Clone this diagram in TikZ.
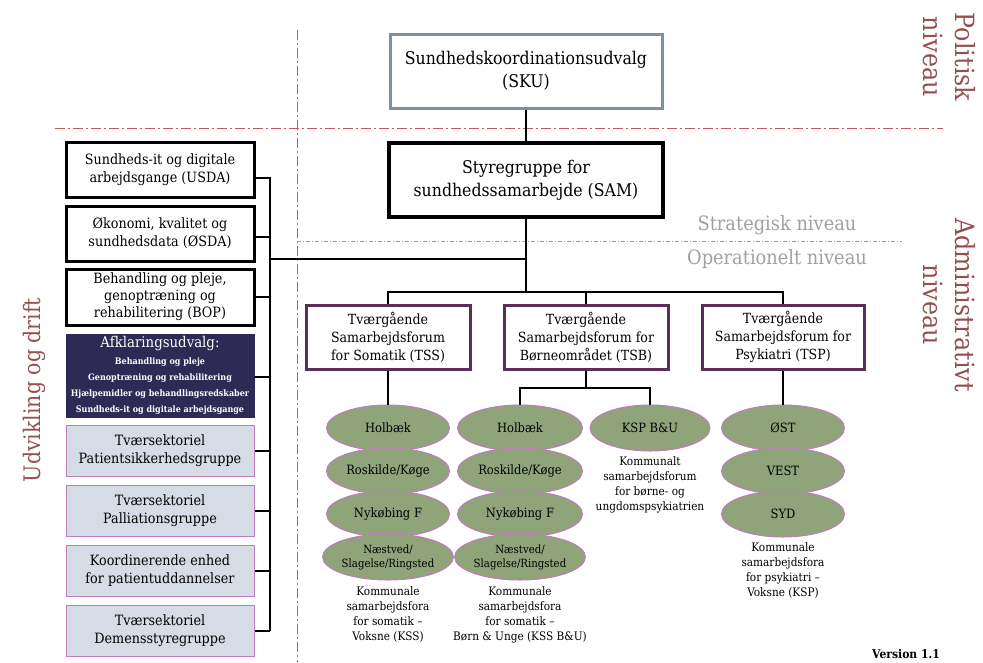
\documentclass[tikz,border=0pt]{standalone}
\usepackage{fontspec}
\setmainfont[FakeStretch=0.9]{DejaVu Serif}
\usetikzlibrary{shapes.geometric}
\definecolor{dashred}{RGB}{196,90,90}
\definecolor{lblred}{RGB}{148,80,78}
\definecolor{skuborder}{RGB}{127,143,168}
\definecolor{purp}{RGB}{92,45,92}
\definecolor{navy}{RGB}{45,43,85}
\definecolor{lightfill}{RGB}{214,220,229}
\definecolor{pinkborder}{RGB}{194,123,192}
\definecolor{olive}{RGB}{143,164,121}
\definecolor{grayline}{RGB}{160,160,160}
\definecolor{graytext}{RGB}{160,160,160}
\tikzset{
  conn/.style={line width=2pt, black},
  topbox/.style={draw, line width=3pt, fill=white, align=center, inner sep=0pt, font=\fontsize{17.5}{23}\selectfont},
  leftbox/.style={draw=black, line width=3pt, fill=white, align=center, inner sep=0pt, minimum width=188pt, font=\fontsize{14.2}{18}\selectfont},
  lightbox/.style={draw=pinkborder, line width=1pt, fill=lightfill, align=center, inner sep=0pt, minimum width=188pt, minimum height=51pt, font=\fontsize{14.2}{18}\selectfont},
  midbox/.style={draw=purp, line width=3pt, fill=white, align=center, inner sep=0pt, minimum width=164pt, minimum height=64pt, font=\fontsize{14}{18}\selectfont},
  oval/.style={ellipse, draw=pinkborder, line width=1pt, fill=olive, align=center, inner sep=0pt, minimum width=123pt, minimum height=46pt, font=\fontsize{12.8}{14}\selectfont},
  caption/.style={align=center, inner sep=0pt, font=\fontsize{11.7}{15}\selectfont},
  reddash/.style={dashred, line width=1pt, dash pattern=on 10pt off 3pt on 2pt off 3pt},
  graydash/.style={grayline, line width=1pt, dash pattern=on 4pt off 2pt on 1pt off 2pt},
  sidelbl/.style={lblred, align=center, inner sep=0pt, font=\fontsize{26.5}{32}\selectfont},
  leveltxt/.style={graytext, inner sep=0pt, font=\fontsize{19.8}{22}\selectfont},
}
\begin{document}
\begin{tikzpicture}[x=1pt,y=-1pt]
\useasboundingbox (0,0) rectangle (983,662);

% level separators
\draw[reddash] (55,128) -- (943,128);
\draw[reddash] (297,30) -- (297,662);
\draw[graydash] (297,241) -- (902,241);

\node[leveltxt] (strat) at (777,225) {Strategisk niveau};
\node[leveltxt] (oper) at (777,259) {Operationelt niveau};

\node[sidelbl, rotate=-90] (pol) at (949,57) {Politisk\\niveau};
\node[sidelbl, rotate=-90] (adm) at (949,305) {Administrativt\\niveau};
\node[lblred, rotate=90, inner sep=0pt, font=\fontsize{22.8}{26}\selectfont] (udv) at (34,390) {Udvikling og drift};

% top boxes
\node[topbox, draw=skuborder, minimum width=272pt, minimum height=74pt] (sku) at (526,71) {Sundhedskoordinationsudvalg\\(SKU)};
\node[topbox, draw=black, line width=3.5pt, minimum width=274pt, minimum height=74pt] (sam) at (526,180) {Styregruppe for\\sundhedssamarbejde (SAM)};

% left boxes
\node[leftbox, minimum height=55pt] (usda) at (160,169.5) {Sundheds-it og digitale\\arbejdsgange (USDA)};
\node[leftbox, minimum height=55pt] (osda) at (160,233.5) {Økonomi, kvalitet og\\sundhedsdata (ØSDA)};
\node[leftbox, minimum height=56pt, font=\fontsize{14.2}{17}\selectfont] (bop) at (160,297) {Behandling og pleje,\\genoptræning og\\rehabilitering (BOP)};
\node[fill=navy, draw=navy, text=white, align=center, inner sep=0pt, minimum width=188pt, minimum height=83pt, font=\fontsize{14.8}{16}\selectfont] (afk) at (160,375.5)
  {Afklaringsudvalg:\\[1pt]
   \fontsize{8.9}{11.7}\selectfont\bfseries Behandling og pleje\\\fontsize{8.9}{11.7}\selectfont\bfseries Genoptræning og rehabilitering\\\fontsize{8.9}{11.7}\selectfont\bfseries Hjælpemidler og behandlingsredskaber\\\fontsize{8.9}{11.7}\selectfont\bfseries Sundheds-it og digitale arbejdsgange};
\node[lightbox] (pat) at (160,450.5) {Tværsektoriel\\Patientsikkerhedsgruppe};
\node[lightbox] (pal) at (160,510.5) {Tværsektoriel\\Palliationsgruppe};
\node[lightbox] (koo) at (160,570.5) {Koordinerende enhed\\for patientuddannelser};
\node[lightbox] (dem) at (160,630.5) {Tværsektoriel\\Demensstyregruppe};

% bus coordinates
\coordinate (busTop) at (270,178);
\coordinate (busBot) at (270,630.5);
\coordinate (j1) at (526,259);
\coordinate (j2) at (526,292);
\coordinate (busMid) at (270,259);

% mid boxes
\node[midbox] (tss) at (388,337) {Tværgående\\Samarbejdsforum\\for Somatik (TSS)};
\node[midbox] (tsb) at (586,337) {Tværgående\\Samarbejdsforum for\\Børneområdet (TSB)};
\node[midbox, minimum width=162pt] (tsp) at (783,337) {Tværgående\\Samarbejdsforum for\\Psykiatri (TSP)};

% connectors (behind ovals)
\draw[conn] (sku) -- (sam);
\draw[conn] (sam) -- (j2);
\draw[conn] (busMid) -- (j1);
\draw[conn] ([yshift=-8.5pt]usda.east) -| (busBot);
\draw[conn] (busBot) -- (dem.east);
\draw[conn] ([yshift=-3.5pt]osda.east) -- ([yshift=-3.5pt]osda.east -| busTop);
\draw[conn] (bop.east) -- (bop.east -| busTop);
\draw[conn] ([yshift=-1.5pt]afk.east) -- ([yshift=-1.5pt]afk.east -| busTop);
\draw[conn] (pat.east) -- (pat.east -| busTop);
\draw[conn] (pal.east) -- (pal.east -| busTop);
\draw[conn] (koo.east) -- (koo.east -| busTop);
\draw[conn] (tss.north) |- (j2) -| (tsp.north);
\draw[conn] (tsb.north) -- (tsb.north |- j2);
\coordinate (tsbj) at (586,388);
\draw[conn] (tsb.south) -- (tsbj);

% ovals TSS
\node[oval] (s1) at (388,428) {Holbæk};
\node[oval] (s2) at (388,471) {Roskilde/Køge};
\node[oval] (s3) at (388,514) {Nykøbing F};
\node[oval, font=\fontsize{11.3}{14}\selectfont] (s4) at (388,557) {Næstved/\\Slagelse/Ringsted};
\draw[conn] (tss.south) -- (s1.north);
% ovals TSB
\node[oval, minimum width=125pt] (b1) at (520,428) {Holbæk};
\node[oval, minimum width=125pt] (b2) at (520,471) {Roskilde/Køge};
\node[oval, minimum width=125pt] (b3) at (520,514) {Nykøbing F};
\node[oval, minimum width=125pt, font=\fontsize{11.3}{14}\selectfont] (b4) at (520,557) {Næstved/\\Slagelse/Ringsted};
\node[oval, minimum width=120pt] (k1) at (650,428) {KSP B\&U};
\draw[conn] (b1.north) |- (tsbj) -| (k1.north);
% ovals TSP
\node[oval] (p1) at (783,428) {ØST};
\node[oval] (p2) at (783,471) {VEST};
\node[oval] (p3) at (783,514) {SYD};
\draw[conn] (tsp.south) -- (p1.north);

% captions
\node[caption] (ck) at (650,485) {Kommunalt\\samarbejdsforum\\for børne- og\\ungdomspsykiatrien};
\node[caption] (cs) at (388,614) {Kommunale\\samarbejdsfora\\for somatik –\\Voksne (KSS)};
\node[caption] (cb) at (520,615) {Kommunale\\samarbejdsfora\\for somatik –\\Børn \& Unge (KSS B\&U)};
\node[caption] (cp) at (783,570) {Kommunale\\samarbejdsfora\\for psykiatri –\\Voksne (KSP)};

\node[font=\fontsize{12}{13}\selectfont\bfseries, inner sep=0pt] (ver) at (906,654) {Version 1.1};
\end{tikzpicture}
\end{document}
